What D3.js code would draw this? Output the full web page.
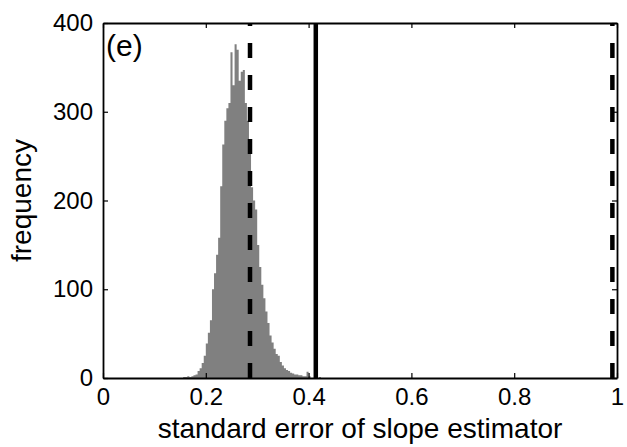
<!DOCTYPE html>
<html>
<head>
<meta charset="utf-8">
<script src="https://cdn.jsdelivr.net/npm/d3@7"></script>
<style>
    body {
        margin: 0;
        background: white;
        font-family: "Liberation Sans", Arial, Helvetica, sans-serif;
    }
</style>
</head>
<body>
<svg id="chart"></svg>
<script>
    // histogram of the bootstrap standard errors
    let binStart = 0.156;
    let binWidth = 0.004;
    let counts = [
        1, 1, 2, 1, 2, 3, 4, 8, 11, 17,
        25, 39, 51, 65, 100, 118, 139, 158, 216, 263,
        290, 304, 310, 367, 330, 376, 370, 335, 345, 347,
        310, 290, 255, 215, 200, 190, 150, 125, 105, 90,
        75, 62, 48, 40, 33, 27, 25, 18, 14, 11,
        9, 8, 6, 5, 4, 4, 3, 3, 2, 2,
        7, 2, 0, 0, 0, 0, 1, 0
    ];

    // reference lines
    let dashedLines = [0.286, 0.991];
    let solidLines = [0.414];

    let xTicks = [0, 0.2, 0.4, 0.6, 0.8, 1];
    let yTicks = [0, 100, 200, 300, 400];

    let xLabel = "standard error of slope estimator";
    let yLabel = "frequency";
    let panelLabel = "(e)";

    // config
    let width = 627;
    let height = 447;
    let margin = { top: 23, right: 10, bottom: 69, left: 103 };
    let bodyWidth = width - margin.left - margin.right;
    let bodyHeight = height - margin.top - margin.bottom;

    let svg = d3.select("#chart")
        .attr("width", width)
        .attr("height", height);

    let xScale = d3.scaleLinear().domain([0, 1]).range([0, bodyWidth]);
    let yScale = d3.scaleLinear().domain([0, 400]).range([bodyHeight, 0]);

    let body = svg.append("g")
        .attr("transform", `translate(${margin.left},${margin.top})`);

    // bars, drawn as one stepped shape so there are no seams between bins
    let bins = counts.map((c, i) => ({
        x0: binStart + i * binWidth,
        count: c
    }));

    let area = d3.area()
        .x(d => xScale(d.x0))
        .y0(yScale(0))
        .y1(d => yScale(d.count))
        .curve(d3.curveStepAfter);

    body.append("path")
        .datum(bins)
        .attr("d", area)
        .attr("fill", "#808080");

    // vertical lines
    body.selectAll(".dashed")
        .data(dashedLines)
        .enter().append("line")
        .attr("x1", d => xScale(d))
        .attr("x2", d => xScale(d))
        .attr("y1", yScale(0))
        .attr("y2", yScale(400))
        .attr("stroke", "black")
        .attr("stroke-width", 4.5)
        .attr("stroke-dasharray", "15,17");

    body.selectAll(".solid")
        .data(solidLines)
        .enter().append("line")
        .attr("x1", d => xScale(d))
        .attr("x2", d => xScale(d))
        .attr("y1", yScale(0))
        .attr("y2", yScale(400))
        .attr("stroke", "black")
        .attr("stroke-width", 4.5);

    // axes, matlab style box with inward ticks
    let axisBottom = d3.axisBottom(xScale)
        .tickValues(xTicks)
        .tickFormat(d3.format("~g"))
        .tickSizeInner(-5)
        .tickSizeOuter(0)
        .tickPadding(10);
    let axisLeft = d3.axisLeft(yScale)
        .tickValues(yTicks)
        .tickSizeInner(-5)
        .tickSizeOuter(0)
        .tickPadding(10);
    let axisTop = d3.axisTop(xScale)
        .tickValues(xTicks)
        .tickFormat("")
        .tickSizeInner(-5)
        .tickSizeOuter(0);
    let axisRight = d3.axisRight(yScale)
        .tickValues(yTicks)
        .tickFormat("")
        .tickSizeInner(-5)
        .tickSizeOuter(0);

    let gx = body.append("g")
        .attr("transform", `translate(0,${bodyHeight})`)
        .call(axisBottom);
    let gy = body.append("g").call(axisLeft);
    let gt = body.append("g").call(axisTop);
    let gr = body.append("g")
        .attr("transform", `translate(${bodyWidth},0)`)
        .call(axisRight);

    [gx, gy, gt, gr].forEach(g => {
        g.select(".domain").attr("stroke", "black").attr("stroke-width", 1.8);
        g.selectAll(".tick line").attr("stroke", "black").attr("stroke-width", 1.2);
        g.selectAll(".tick text")
            .attr("fill", "black")
            .style("font-family", "'Liberation Sans', Arial, sans-serif")
            .style("font-size", "24px");
    });

    // labels
    svg.append("text")
        .attr("x", margin.left + bodyWidth / 2)
        .attr("y", 438)
        .attr("text-anchor", "middle")
        .style("font-size", "28px")
        .text(xLabel);

    svg.append("text")
        .attr("transform", `translate(31,${margin.top + bodyHeight / 2}) rotate(-90)`)
        .attr("text-anchor", "middle")
        .style("font-size", "28px")
        .text(yLabel);

    body.append("text")
        .attr("x", 3)
        .attr("y", 33)
        .style("font-size", "30px")
        .text(panelLabel);
</script>
</body>
</html>
